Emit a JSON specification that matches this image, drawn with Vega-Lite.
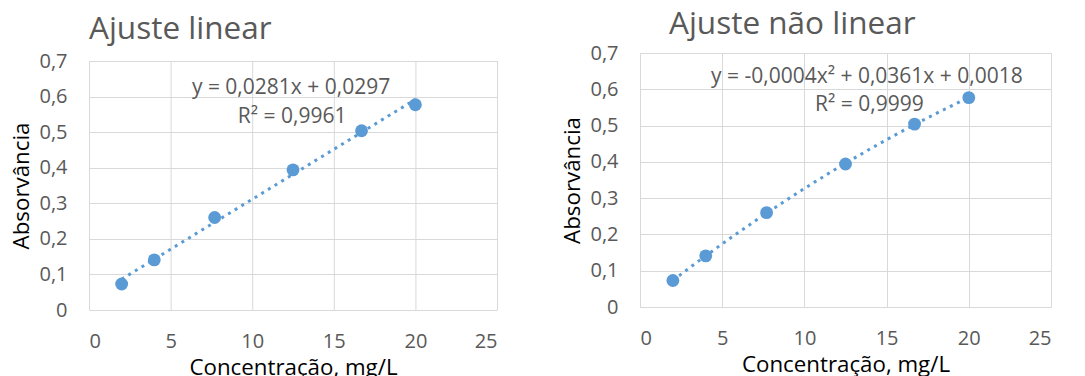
{
  "$schema": "https://vega.github.io/schema/vega-lite/v6.json",
  "padding": {"left": 10, "top": 8, "right": 0, "bottom": 0},
  "spacing": 63,
  "datasets": {
    "cal": [
      {"c": 2, "a": 0.073},
      {"c": 4, "a": 0.141},
      {"c": 7.7, "a": 0.26},
      {"c": 12.5, "a": 0.394},
      {"c": 16.7, "a": 0.504},
      {"c": 20, "a": 0.577}
    ],
    "gridx": [{"g": 0}, {"g": 5}, {"g": 10}, {"g": 15}, {"g": 20}, {"g": 25}],
    "one": [{"k": 1}]
  },
  "config": {
    "font": "Open Sans",
    "view": {"stroke": "#d9d9d9", "strokeWidth": 1},
    "axis": {
      "grid": true, "gridColor": "#d9d9d9", "gridWidth": 1,
      "ticks": false, "domain": false, "labelOverlap": false, "tickCount": 20,
      "labelFont": "Open Sans", "labelFontSize": 20, "labelColor": "#595959",
      "titleFont": "Open Sans", "titleFontSize": 22.3, "titleColor": "#000000", "titleFontWeight": "normal"
    },
    "axisX": {"labelPadding": 21, "titlePadding": 5, "values": [0,5,10,15,20,25]},
    "axisY": {"labelPadding": 22, "titlePadding": 5, "values": [0,0.1,0.2,0.3,0.4,0.5,0.6,0.7], "labelExpr": "replace(toString(datum.value), '.', ',')"},
    "title": {"font": "Open Sans", "fontSize": 31.5, "fontWeight": "normal", "color": "#595959", "anchor": "start", "frame": "group"}
  },
  "hconcat": [
    {
      "width": 408, "height": 257,
      "view": {"stroke": null},
      "title": {"text": "Ajuste linear", "offset": 5.5},
      "layer": [
        {
          "data": {"name": "gridx"},
          "mark": {"type": "rule", "color": "#d9d9d9", "strokeWidth": 1, "xOffset": 0.5},
          "encoding": {
            "x": {"field": "g", "type": "quantitative", "scale": {"domain": [0, 25], "nice": false}, "axis": {"values": [0,5,10,15,20,25], "tickCount": 20, "grid": false, "title": "Concentração, mg/L"}},
            "y": {"datum": 0, "type": "quantitative", "scale": {"domain": [0, 0.72249], "nice": false}, "axis": {"values": [0,0.1,0.2,0.3,0.4,0.5,0.6,0.7], "tickCount": 20, "title": "Absorvância", "titleY": 132.5}},
            "y2": {"datum": 0.7}
          }
        },
        {
          "data": {"name": "cal"},
          "transform": [{"regression": "a", "on": "c", "method": "linear"}],
          "mark": {"type": "line", "color": "#5b9bd5", "strokeWidth": 3, "strokeDash": [3, 4.8]},
          "encoding": {
            "x": {"field": "c", "type": "quantitative"},
            "y": {"field": "a", "type": "quantitative"}
          }
        },
        {
          "data": {"name": "cal"},
          "mark": {"type": "circle", "color": "#5b9bd5", "opacity": 1, "size": 165},
          "encoding": {
            "x": {"field": "c", "type": "quantitative"},
            "y": {"field": "a", "type": "quantitative"}
          }
        },
        {
          "data": {"name": "one"},
          "mark": {"type": "text", "text": "y = 0,0281x + 0,0297", "fontSize": 21, "fontWeight": "normal", "color": "#595959", "align": "center", "baseline": "middle"},
          "encoding": {
            "x": {"datum": 12.38, "type": "quantitative"},
            "y": {"datum": 0.624, "type": "quantitative"}
          }
        },
        {
          "data": {"name": "one"},
          "mark": {"type": "text", "text": "R² = 0,9961", "fontSize": 21, "fontWeight": "normal", "color": "#595959", "align": "center", "baseline": "middle"},
          "encoding": {
            "x": {"datum": 12.45, "type": "quantitative"},
            "y": {"datum": 0.5426, "type": "quantitative"}
          }
        }
      ]
    },
    {
      "width": 411, "height": 254,
      "title": {"text": "Ajuste não linear", "offset": 3, "dx": 29},
      "layer": [
        {
          "data": {"name": "cal"},
          "transform": [{"regression": "a", "on": "c", "method": "poly", "order": 2}],
          "mark": {"type": "line", "color": "#5b9bd5", "strokeWidth": 3, "strokeDash": [3, 4.8]},
          "encoding": {
            "x": {"field": "c", "type": "quantitative", "scale": {"domain": [0, 25], "nice": false}, "axis": {"values": [0,5,10,15,20,25], "tickCount": 20, "title": "Concentração, mg/L"}},
            "y": {"field": "a", "type": "quantitative", "scale": {"domain": [0, 0.7], "nice": false}, "axis": {"values": [0,0.1,0.2,0.3,0.4,0.5,0.6,0.7], "tickCount": 20, "title": "Absorvância"}}
          }
        },
        {
          "data": {"name": "cal"},
          "mark": {"type": "circle", "color": "#5b9bd5", "opacity": 1, "size": 165},
          "encoding": {
            "x": {"field": "c", "type": "quantitative"},
            "y": {"field": "a", "type": "quantitative"}
          }
        },
        {
          "data": {"name": "one"},
          "mark": {"type": "text", "text": "y = -0,0004x² + 0,0361x + 0,0018", "fontSize": 21, "fontWeight": "normal", "color": "#595959", "align": "center", "baseline": "middle"},
          "encoding": {
            "x": {"datum": 13.8, "type": "quantitative"},
            "y": {"datum": 0.634, "type": "quantitative"}
          }
        },
        {
          "data": {"name": "one"},
          "mark": {"type": "text", "text": "R² = 0,9999", "fontSize": 21, "fontWeight": "normal", "color": "#595959", "align": "center", "baseline": "middle"},
          "encoding": {
            "x": {"datum": 13.95, "type": "quantitative"},
            "y": {"datum": 0.5567, "type": "quantitative"}
          }
        }
      ]
    }
  ]
}
